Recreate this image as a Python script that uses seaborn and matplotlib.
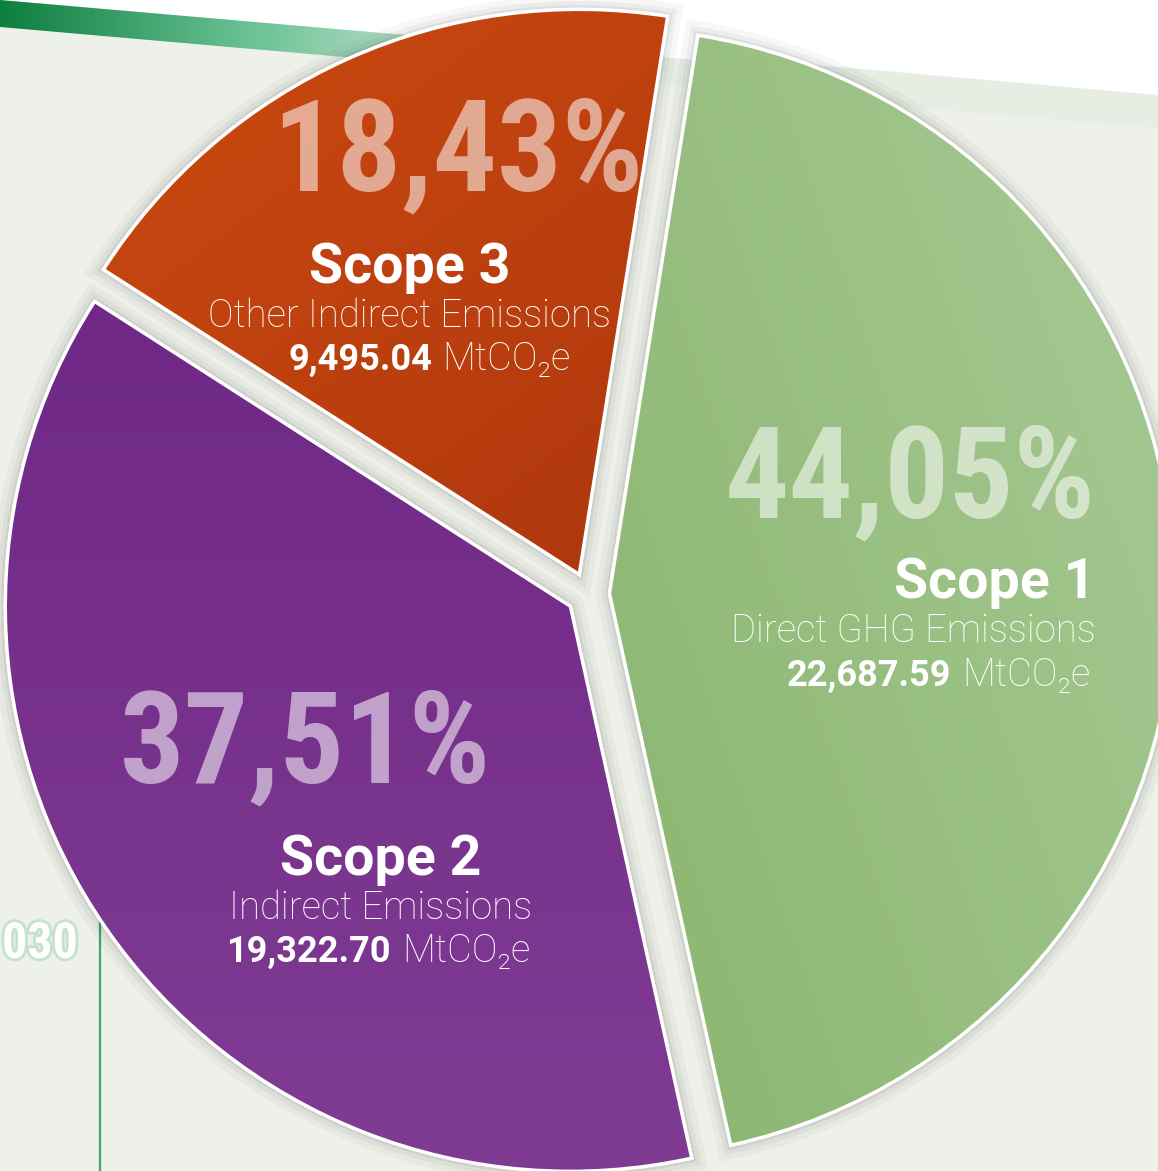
import numpy as np
import pandas as pd
import matplotlib
matplotlib.use('Agg')
import matplotlib.pyplot as plt
import seaborn as sns
from matplotlib import font_manager as fm
from matplotlib.patches import Polygon, PathPatch
from matplotlib.colors import LinearSegmentedColormap
import matplotlib.patheffects as pe

# ---------------- data ----------------
scopes = ['Scope 1', 'Scope 3', 'Scope 2']
descriptions = ['Direct GHG Emissions', 'Other Indirect Emissions', 'Indirect Emissions']
shares = [44.05, 18.43, 37.51]
emissions = ['22,687.59', '9,495.04', '19,322.70']
share_labels = ['44,05%', '18,43%', '37,51%']
unit = 'MtCO\u2082e'
colors = ['#97bd80', '#c3440f', '#783288']
# gradient (start, end) shades per slice, and gradient direction
shades = [('#8ab56f', '#a8ca96'), ('#cd4a10', '#ae370e'), ('#6f2886', '#803c93')]
grad_dirs = [(1.0, 0.35), (0.6, -0.8), (0.0, -1.0)]

df = pd.DataFrame({'scope': scopes, 'desc': descriptions, 'share': shares,
                   'emis': emissions, 'label': share_labels, 'color': colors})

# ---------------- style ----------------
sns.set_theme(style='white')
palette = sns.color_palette(df['color'].tolist())
plt.rcParams['font.family'] = ['Roboto', 'DejaVu Sans']

names = {f.name for f in fm.fontManager.ttflist}
pct_fp = None
for nm in ['Liberation Sans Narrow', 'Roboto Condensed', 'DejaVu Sans Condensed']:
    if nm in names:
        pct_fp = fm.FontProperties(family=nm, weight='bold')
        break
if pct_fp is None:
    cands = [f for f in fm.fontManager.ttflist
             if 'Condensed' in f.fname and 'Bold' in f.fname and 'Oblique' not in f.fname]
    if cands:
        pct_fp = fm.FontProperties(fname=cands[0].fname)
    else:
        pct_fp = fm.FontProperties(family='Roboto', weight='bold')

W, H = 1158, 1171
fig = plt.figure(figsize=(W / 100, H / 100), dpi=100)
ax = fig.add_axes([0, 0, 1, 1])


def Y(p):
    return H - p


# ---------------- background ----------------
ax.add_patch(Polygon([(0, 0), (W, 0), (W, H), (0, H)], closed=True,
                     facecolor='#eef1ea', edgecolor='none', zorder=0))
ax.add_patch(Polygon([(0, Y(0)), (W, Y(0)), (W, Y(100)), (0, Y(0))], closed=True,
                     facecolor='white', edgecolor='none', zorder=0.2))
stripe = Polygon([(0, Y(0)), (W, Y(100)), (W, Y(128)), (0, Y(27))], closed=True,
                 facecolor='none', edgecolor='none', zorder=0.3)
ax.add_patch(stripe)
cmap = LinearSegmentedColormap.from_list('g', ['#0d7f3f', '#6cc296', '#dfeee2', '#e9efe6'])
grad = np.linspace(0, 1, 256).reshape(1, -1)
im = ax.imshow(grad, extent=[0, 760, Y(130), Y(0)], cmap=cmap, aspect='auto', zorder=0.4)
im.set_clip_path(stripe)
ax.add_patch(Polygon([(760, Y(60)), (W, Y(95)), (W, Y(128)), (760, Y(95))], closed=True,
                     facecolor='#e6eee4', edgecolor='none', zorder=0.35))
ax.plot([100, 100], [Y(420), Y(H)], color='#3fa66c', lw=1.6, zorder=0.5)
ax.text(2, Y(958), '030', fontproperties=pct_fp, fontsize=36, color='white',
        ha='left', va='baseline', zorder=0.6,
        path_effects=[pe.withStroke(linewidth=4, foreground='#c4e2cd')])

# ---------------- pie ----------------
wedges, _ = ax.pie(df['share'], colors=palette, startangle=-77.6, counterclock=True,
                   explode=[21.5] * 3, radius=565, center=(588, Y(594)),
                   wedgeprops=dict(edgecolor='white', linewidth=2.4),
                   frame=True)
yy, xx = np.mgrid[0:H:2, 0:W:2]
for w, (c1, c2), (dx, dy) in zip(wedges, shades, grad_dirs):
    w.set_zorder(2)
    w.set_path_effects([pe.Stroke(linewidth=20, foreground='black', alpha=0.03),
                        pe.Stroke(linewidth=12, foreground='black', alpha=0.045),
                        pe.Stroke(linewidth=6, foreground='black', alpha=0.06),
                        pe.Normal()])
    path = w.get_path()
    ext = path.get_extents()
    proj = xx * dx + yy * dy
    corners = np.array([[ext.x0, ext.y0], [ext.x0, ext.y1], [ext.x1, ext.y0], [ext.x1, ext.y1]])
    cp = corners[:, 0] * dx + corners[:, 1] * dy
    t = np.clip((proj - cp.min()) / (cp.max() - cp.min()), 0, 1)
    gcm = LinearSegmentedColormap.from_list('w', [c1, c2])
    gim = ax.imshow(t, extent=[0, W, 0, H], origin='lower', cmap=gcm,
                    aspect='auto', zorder=2.1, interpolation='bilinear')
    clip = PathPatch(path, facecolor='none', edgecolor='none', transform=ax.transData)
    gim.set_clip_path(clip)
    ax.add_patch(PathPatch(path, facecolor='none', edgecolor='white', lw=2.4, zorder=2.2))

# ---------------- labels ----------------
pct_kw = dict(fontproperties=pct_fp, fontsize=92, color='white', alpha=0.55,
              va='baseline', zorder=3)
title_kw = dict(fontsize=40, fontweight='bold', color='white', va='baseline', zorder=3)
desc_kw = dict(fontsize=27.5, fontweight='light', color='white', va='baseline', zorder=3)
num_kw = dict(fontsize=26, fontweight='bold', color='white', va='baseline', zorder=3)

layout = {
    # pct x, pct baseline, text x, ha, title base, desc base, number base, number right x, unit left x
    'Scope 1': (910, 517, 1096, 'right', 598, 642, 686, 951, 962),
    'Scope 3': (458, 190, 410, 'center', 283, 327, 370, 432, 442),
    'Scope 2': (306, 782, 381, 'center', 875, 919, 962, 391, 402),
}

for _, r in df.iterrows():
    px, pb, tx, ha, tb, db, nb, nx, ux = layout[r['scope']]
    ax.text(px, Y(pb), r['label'], ha='center', **pct_kw)
    ax.text(tx, Y(tb), r['scope'], ha=ha, **title_kw)
    ax.text(tx, Y(db), r['desc'], ha=ha, **desc_kw)
    ax.text(nx, Y(nb), r['emis'], ha='right', **num_kw)
    ax.text(ux, Y(nb), unit, ha='left', **desc_kw)

ax.set_xlim(0, W)
ax.set_ylim(0, H)
ax.set_aspect('auto')
ax.axis('off')

fig.savefig('out.png', dpi=100)
